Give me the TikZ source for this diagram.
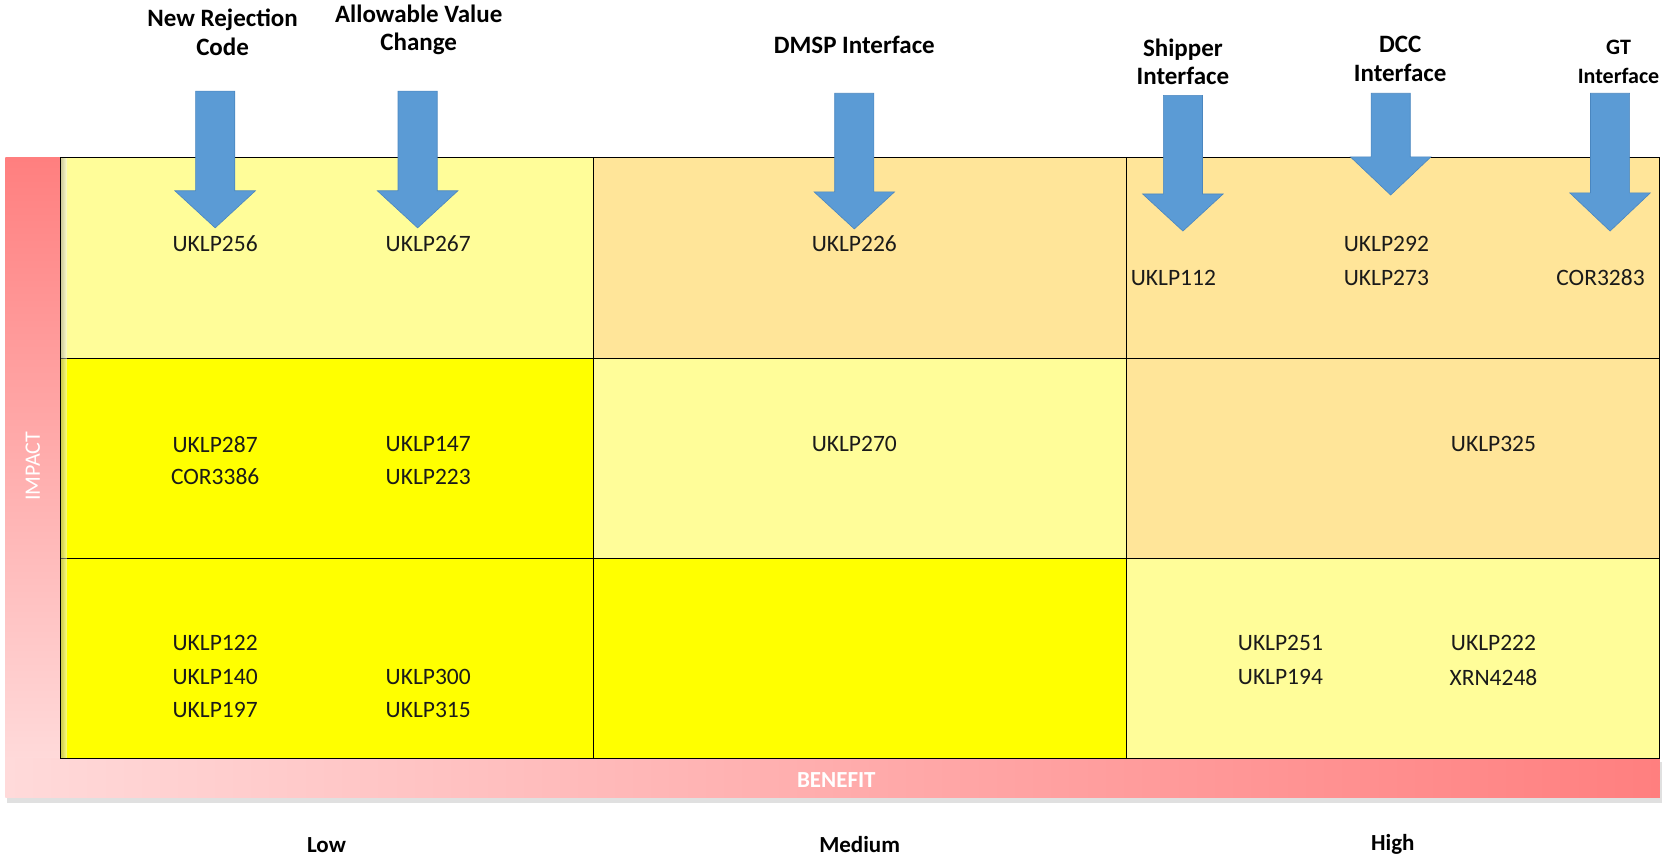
\documentclass[tikz,border=0pt]{standalone}
\usepackage{fontspec}
\setmainfont{Carlito}
\definecolor{lyel}{HTML}{FFFD99}
\definecolor{lora}{HTML}{FFE599}
\definecolor{yel}{HTML}{FFFF00}
\definecolor{abl}{HTML}{5B9BD5}
\definecolor{abd}{HTML}{4A86BF}
\definecolor{redd}{HTML}{FF7F7F}
\definecolor{pinkl}{HTML}{FFDADA}
\definecolor{txt}{HTML}{1A1A1A}
\tikzset{
  cellbox/.style={draw=black, line width=1.1pt},
  blockarr/.style={fill=abl, draw=abd, line width=0.6pt, line join=miter},
  hdr/.style={font=\fontsize{25}{28.6}\selectfont\bfseries, align=center, text=black, inner sep=0pt},
  code/.style={font=\fontsize{23.5}{28}\selectfont, text=txt, inner sep=0pt},
  axislbl/.style={font=\fontsize{23}{28}\selectfont\bfseries, text=black, inner sep=0pt},
}
\newcommand\blockarrow[4]{%
  \filldraw[blockarr] (#1-18.5,#2) -- (#1+18.5,#2) -- (#1+18.5,#3) -- (#1+38,#3) -- (#1,#4) -- (#1-38,#3) -- (#1-18.5,#3) -- cycle;}
\begin{document}
\begin{tikzpicture}[x=1.06pt, y=-1.06pt]
\useasboundingbox (0,0) rectangle (1568,809);
% shadow of bottom bar
\fill[black!25] (9,721) rectangle (1568,756);
\fill[black!12] (7,719) rectangle (1568,758);
% impact bar
\shade[top color=redd, bottom color=pinkl] (5,149) rectangle (57,717);
% benefit bar
\shade[left color=pinkl, right color=redd] (5,716) rectangle (1566,752);
\node[font=\fontsize{22}{26}\selectfont, text=white, rotate=90, inner sep=0pt] (impact) at (31,440) {IMPACT};
\node[font=\fontsize{23}{26}\selectfont\bfseries, text=white, inner sep=0pt] (benefit) at (789,736) {BENEFIT};
% cells
\filldraw[cellbox, fill=lyel] (57,149) rectangle (560,338);
\filldraw[cellbox, fill=lora] (560,149) rectangle (1063,338);
\filldraw[cellbox, fill=lora] (1063,149) rectangle (1566,338);
\filldraw[cellbox, fill=yel] (57,338) rectangle (560,527);
\filldraw[cellbox, fill=lyel] (560,338) rectangle (1063,527);
\filldraw[cellbox, fill=lora] (1063,338) rectangle (1566,527);
\filldraw[cellbox, fill=yel] (57,527) rectangle (560,716);
\filldraw[cellbox, fill=yel] (560,527) rectangle (1063,716);
\filldraw[cellbox, fill=lyel] (1063,527) rectangle (1566,716);
% inner shadow on left edge of grid
\shade[left color=black!35, right color=black!0, opacity=0.5] (58,150) rectangle (63,715);
% headers
\node[hdr] (nrc) at (210,30.5) {New Rejection\\Code};
\node[hdr] (avc) at (395,28) {Allowable Value\\Change};
\node[hdr] (dmsp) at (806,42) {DMSP Interface};
\node[hdr] (ship) at (1116,58.5) {Shipper\\Interface};
\node[hdr] (dcc) at (1321,55.5) {DCC\\Interface};
\node[hdr, font=\fontsize{22}{28.6}\selectfont\bfseries] (gt) at (1527,58.5) {GT\\Interface};
% arrows
\blockarrow{203}{86}{180}{215}
\blockarrow{394}{86}{180}{215}
\blockarrow{806}{88}{181}{216}
\blockarrow{1116}{90}{183}{218}
\blockarrow{1312}{88}{148}{184}
\blockarrow{1519}{88}{182}{218}
% row 1
\node[code] (c256) at (203,230) {UKLP256};
\node[code] (c267) at (404,230) {UKLP267};
\node[code] (c226) at (806,230) {UKLP226};
\node[code] (c112) at (1107,262) {UKLP112};
\node[code] (c292) at (1308,230) {UKLP292};
\node[code] (c273) at (1308,262) {UKLP273};
\node[code] (c3283) at (1510,262) {COR3283};
% row 2
\node[code] (c287) at (203,419) {UKLP287};
\node[code] (c3386) at (203,450) {COR3386};
\node[code] (c147) at (404,419) {UKLP147};
\node[code] (c223) at (404,450) {UKLP223};
\node[code] (c270) at (806,419) {UKLP270};
\node[code] (c325) at (1409,419) {UKLP325};
% row 3
\node[code] (c122) at (203,607) {UKLP122};
\node[code] (c140) at (203,639) {UKLP140};
\node[code] (c197) at (203,670) {UKLP197};
\node[code] (c300) at (404,639) {UKLP300};
\node[code] (c315) at (404,670) {UKLP315};
\node[code] (c251) at (1208,607) {UKLP251};
\node[code] (c194) at (1208,639) {UKLP194};
\node[code] (c222) at (1409,607) {UKLP222};
\node[code] (c4248) at (1409,639) {XRN4248};
% axis labels
\node[axislbl] (low) at (308,797) {Low};
\node[axislbl] (med) at (811,797) {Medium};
\node[axislbl] (high) at (1314,797) {High};
\end{tikzpicture}
\end{document}
